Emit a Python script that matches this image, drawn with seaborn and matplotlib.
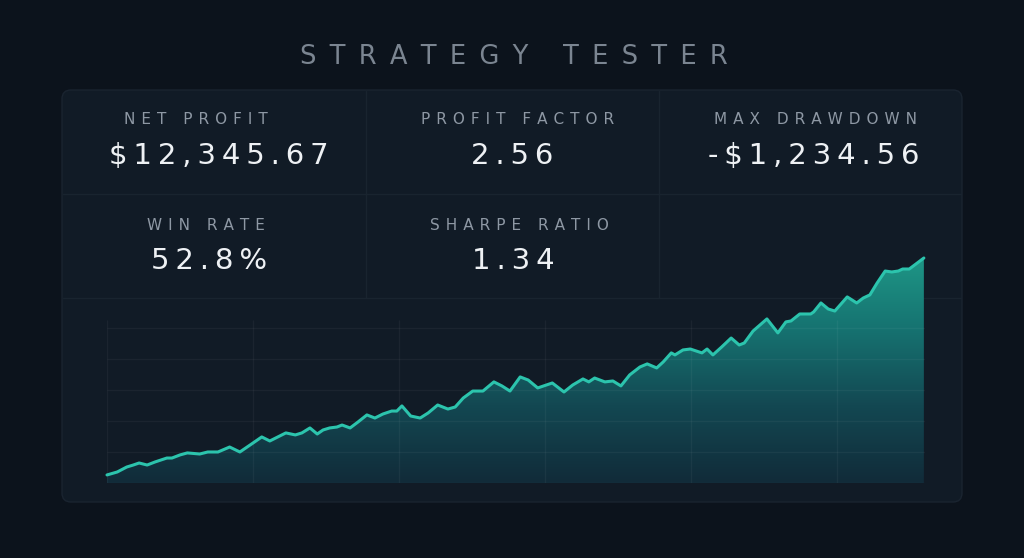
import numpy as np
import matplotlib.pyplot as plt
import seaborn as sns
from matplotlib.patches import FancyBboxPatch, PathPatch
from matplotlib.colors import LinearSegmentedColormap

# equity curve (trade number, account equity)
trade = [0, 1.4, 2.7, 3.6, 4.4, 5.5, 6.6, 8.2, 8.9, 10.0,
         11.0, 12.7, 13.8, 15.2, 16.8, 18.2, 19.6, 21.2, 22.3, 23.4,
         24.5, 25.8, 26.7, 27.8, 28.8, 29.6, 30.5, 31.5, 32.2, 33.3,
         34.4, 35.6, 36.7, 37.8, 39.0, 39.7, 40.4, 41.6, 42.9, 44.0,
         45.3, 46.7, 47.7, 48.8, 50.1, 51.5, 53.0, 54.1, 55.2, 56.6,
         57.7, 59.0, 61.0, 62.6, 63.8, 65.2, 66.0, 66.8, 68.2, 69.3,
         70.4, 71.6, 73.0, 74.0, 75.3, 76.2, 77.3, 77.8, 78.9, 79.9,
         81.5, 82.2, 83.0, 84.2, 85.5, 86.6, 87.3, 88.5, 90.4, 91.9,
         93.0, 93.7, 94.9, 96.4, 96.8, 97.8, 98.8, 99.7, 101.4, 102.7,
         103.6, 104.5, 105.5, 106.6, 107.5, 108.4, 109.0, 109.9, 111.0, 111.9]
equity = [520, 710, 1030, 1160, 1290, 1160, 1360, 1610, 1610, 1810,
          1940, 1870, 2000, 2000, 2320, 2000, 2450, 2970, 2710, 2970,
          3230, 3100, 3230, 3550, 3160, 3420, 3550, 3610, 3740, 3550,
          3940, 4390, 4190, 4450, 4640, 4640, 4970, 4320, 4190, 4520,
          5030, 4770, 4900, 5480, 5930, 5930, 6520, 6260, 5930, 6840,
          6640, 6130, 6450, 5870, 6320, 6710, 6520, 6770, 6520, 6580,
          6260, 6970, 7480, 7680, 7420, 7810, 8390, 8260, 8580, 8640,
          8390, 8640, 8260, 8770, 9350, 8900, 9030, 9800, 10580, 9680,
          10390, 10450, 10900, 10900, 11030, 11610, 11220, 11090, 12000, 11610,
          11930, 12130, 12900, 13670, 13610, 13670, 13800, 13800, 14190, 14510]

title = "STRATEGY TESTER"
labels = ["NET PROFIT", "PROFIT FACTOR", "MAX DRAWDOWN", "WIN RATE", "SHARPE RATIO"]
values = ["$12,345.67", "2.56", "-$1,234.56", "52.8%", "1.34"]
grid_x = [0, 20, 40, 60, 80, 100]
grid_y = [0, 2000, 4000, 6000, 8000, 10000]

# layout in pixels
label_pos = [(196, 120), (518, 120), (815, 120), (206, 225), (519, 225)]
value_pos = [(219, 155), (512, 155), (814, 155), (209, 260), (513, 260)]

BG = "#0c131c"
CARD = "#111b26"
EDGE = "#1a2430"
LINE = "#19242f"
LABEL = "#8e98a4"
VALUE = "#eef1f4"
TEAL = "#2cc4ad"

sns.set_theme(style="dark")
plt.rcParams["font.family"] = ["DejaVu Sans"]


def spaced(text, sep):
    return sep.join(text)


fig = plt.figure(figsize=(10.24, 5.58), dpi=100, facecolor=BG)

base = fig.add_axes([0, 0, 1, 1])
base.set_xlim(0, 1024)
base.set_ylim(558, 0)
base.axis("off")
base.set_facecolor(BG)

card = FancyBboxPatch((62, 90), 900, 412, boxstyle="round,pad=0,rounding_size=9",
                      fc=CARD, ec=EDGE, lw=1.0)
base.add_patch(card)
for x in [366, 659]:
    base.plot([x, x], [91, 298], color=LINE, lw=1.0)
for y in [194, 298]:
    base.plot([63, 961], [y, y], color=LINE, lw=1.0)

base.text(514, 57, spaced(title, " \u2009"), color="#7b8591", fontsize=18.5,
          ha="center", va="center")

for lab, (x, y) in zip(labels, label_pos):
    base.text(x, y, spaced(lab, "\u2009\u2009"), color=LABEL, fontsize=11,
              ha="center", va="center")
for val, (x, y) in zip(values, value_pos):
    base.text(x, y + 1, spaced(val, "\u2009"), color=VALUE, fontsize=21,
              ha="center", va="center")

# equity chart
ax = fig.add_axes([107 / 1024, 75 / 558, 817.6 / 1024, 232.6 / 558])
ax.patch.set_alpha(0)

grad = np.linspace(0, 1, 256).reshape(-1, 1)
cmap = LinearSegmentedColormap.from_list("fill", ["#112b39", "#134852", "#167371", "#1f9a88"])
im = ax.imshow(grad, extent=[0, 112, 0, 15000], origin="lower", aspect="auto",
               cmap=cmap, zorder=1)
area = ax.fill_between(trade, equity, 0, color="none", lw=0)
clip = PathPatch(area.get_paths()[0], transform=ax.transData, fc="none", ec="none")
ax.add_patch(clip)
im.set_clip_path(clip)

ax.vlines(grid_x, 0, 10500, color="white", alpha=0.045, lw=1.0, zorder=2)
ax.hlines(grid_y, 0, 112, color="white", alpha=0.045, lw=1.0, zorder=2)

sns.lineplot(x=trade, y=equity, ax=ax, color=TEAL, linewidth=2.2, zorder=3)
for ln in ax.lines:
    ln.set_clip_on(False)

ax.set_xlim(0, 112)
ax.set_ylim(0, 15000)
ax.axis("off")

fig.savefig("out.png", dpi=100, facecolor=BG)
